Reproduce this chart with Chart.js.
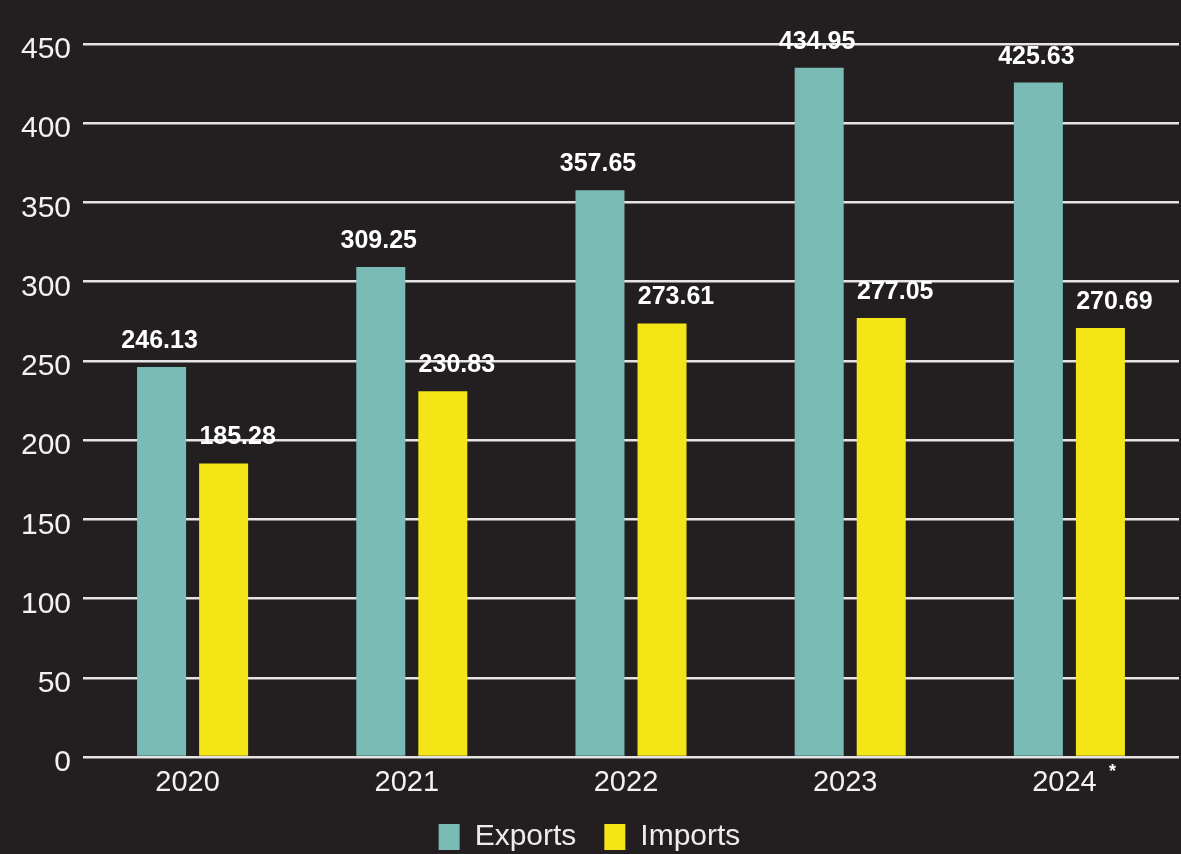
<!DOCTYPE html>
<html lang="en">
<head>
    <meta charset="UTF-8">
    <title>Exports vs Imports 2020-2024</title>
    <script src="https://cdn.jsdelivr.net/npm/chart.js"></script>
    <style>
        body { margin: 0; background: #231f20; }
        #wrap { width: 1181px; height: 854px; position: relative; }
    </style>
</head>
<body>

<div id="wrap">
    <canvas id="tradeChart"></canvas>
</div>

<script>
    // chart data
    const years = ['2020', '2021', '2022', '2023', '2024'];
    const exportsData = [246.13, 309.25, 357.65, 434.95, 425.63];
    const importsData = [185.28, 230.83, 273.61, 277.05, 270.69];
    const yTicks = [0, 50, 100, 150, 200, 250, 300, 350, 400, 450];

    const FONT = '"Liberation Sans", Arial, sans-serif';
    const TEAL = '#7abcb5';
    const YELLOW = '#f4e516';

    // value labels above bars + the asterisk under 2024
    const valueLabels = {
        id: 'valueLabels',
        afterDatasetsDraw(chart) {
            const ctx = chart.ctx;
            ctx.save();
            ctx.font = 'bold 25px ' + FONT;
            ctx.fillStyle = '#ffffff';
            ctx.textAlign = 'center';
            ctx.textBaseline = 'middle';
            chart.data.datasets.forEach((ds, i) => {
                chart.getDatasetMeta(i).data.forEach((bar, j) => {
                    const dx = i === 1 ? 14 : -2;
                    ctx.fillText(ds.data[j].toFixed(2), bar.x + dx, bar.y - 26);
                });
            });
            // footnote star next to 2024
            const last = chart.getDatasetMeta(1).data[years.length - 1];
            ctx.font = 'bold 18px ' + FONT;
            ctx.textBaseline = 'alphabetic';
            ctx.fillText('*', last.x + 12, chart.chartArea.bottom + 20);
            ctx.restore();
        }
    };

    const ctx = document.getElementById('tradeChart').getContext('2d');
    const tradeChart = new Chart(ctx, {
        type: 'bar',
        data: {
            labels: years,
            datasets: [
                {
                    label: 'Exports',
                    data: exportsData,
                    backgroundColor: TEAL,
                    borderWidth: 0,
                    categoryPercentage: 0.566,
                    barPercentage: 0.79
                },
                {
                    label: 'Imports',
                    data: importsData,
                    backgroundColor: YELLOW,
                    borderWidth: 0,
                    categoryPercentage: 0.566,
                    barPercentage: 0.79
                }
            ]
        },
        options: {
            responsive: true,
            maintainAspectRatio: false,
            animation: false,
            layout: { padding: { top: 44, right: 2, left: 0, bottom: -8 } },
            plugins: {
                tooltip: { enabled: false },
                legend: {
                    position: 'bottom',
                    labels: {
                        color: '#ececec',
                        font: { family: FONT, size: 30 },
                        boxWidth: 21,
                        boxHeight: 26,
                        padding: 28
                    }
                }
            },
            scales: {
                x: {
                    grid: { display: false },
                    border: { display: false },
                    ticks: {
                        color: '#f2f2f2',
                        font: { family: FONT, size: 29 },
                        padding: 1,
                        labelOffset: -5
                    },
                    afterFit(scale) { scale.height = 37; }
                },
                y: {
                    min: 0,
                    max: 450,
                    afterBuildTicks(scale) {
                        scale.ticks = yTicks.map(v => ({ value: v }));
                    },
                    grid: {
                        color: '#e4e4e4',
                        lineWidth: 2.5,
                        drawTicks: false
                    },
                    border: { display: false },
                    ticks: {
                        color: '#f2f2f2',
                        font: { family: FONT, size: 30 },
                        padding: 12,
                        labelOffset: 6
                    },
                    afterFit(scale) { scale.width = 83; }
                }
            }
        },
        plugins: [valueLabels]
    });
</script>

</body>
</html>
